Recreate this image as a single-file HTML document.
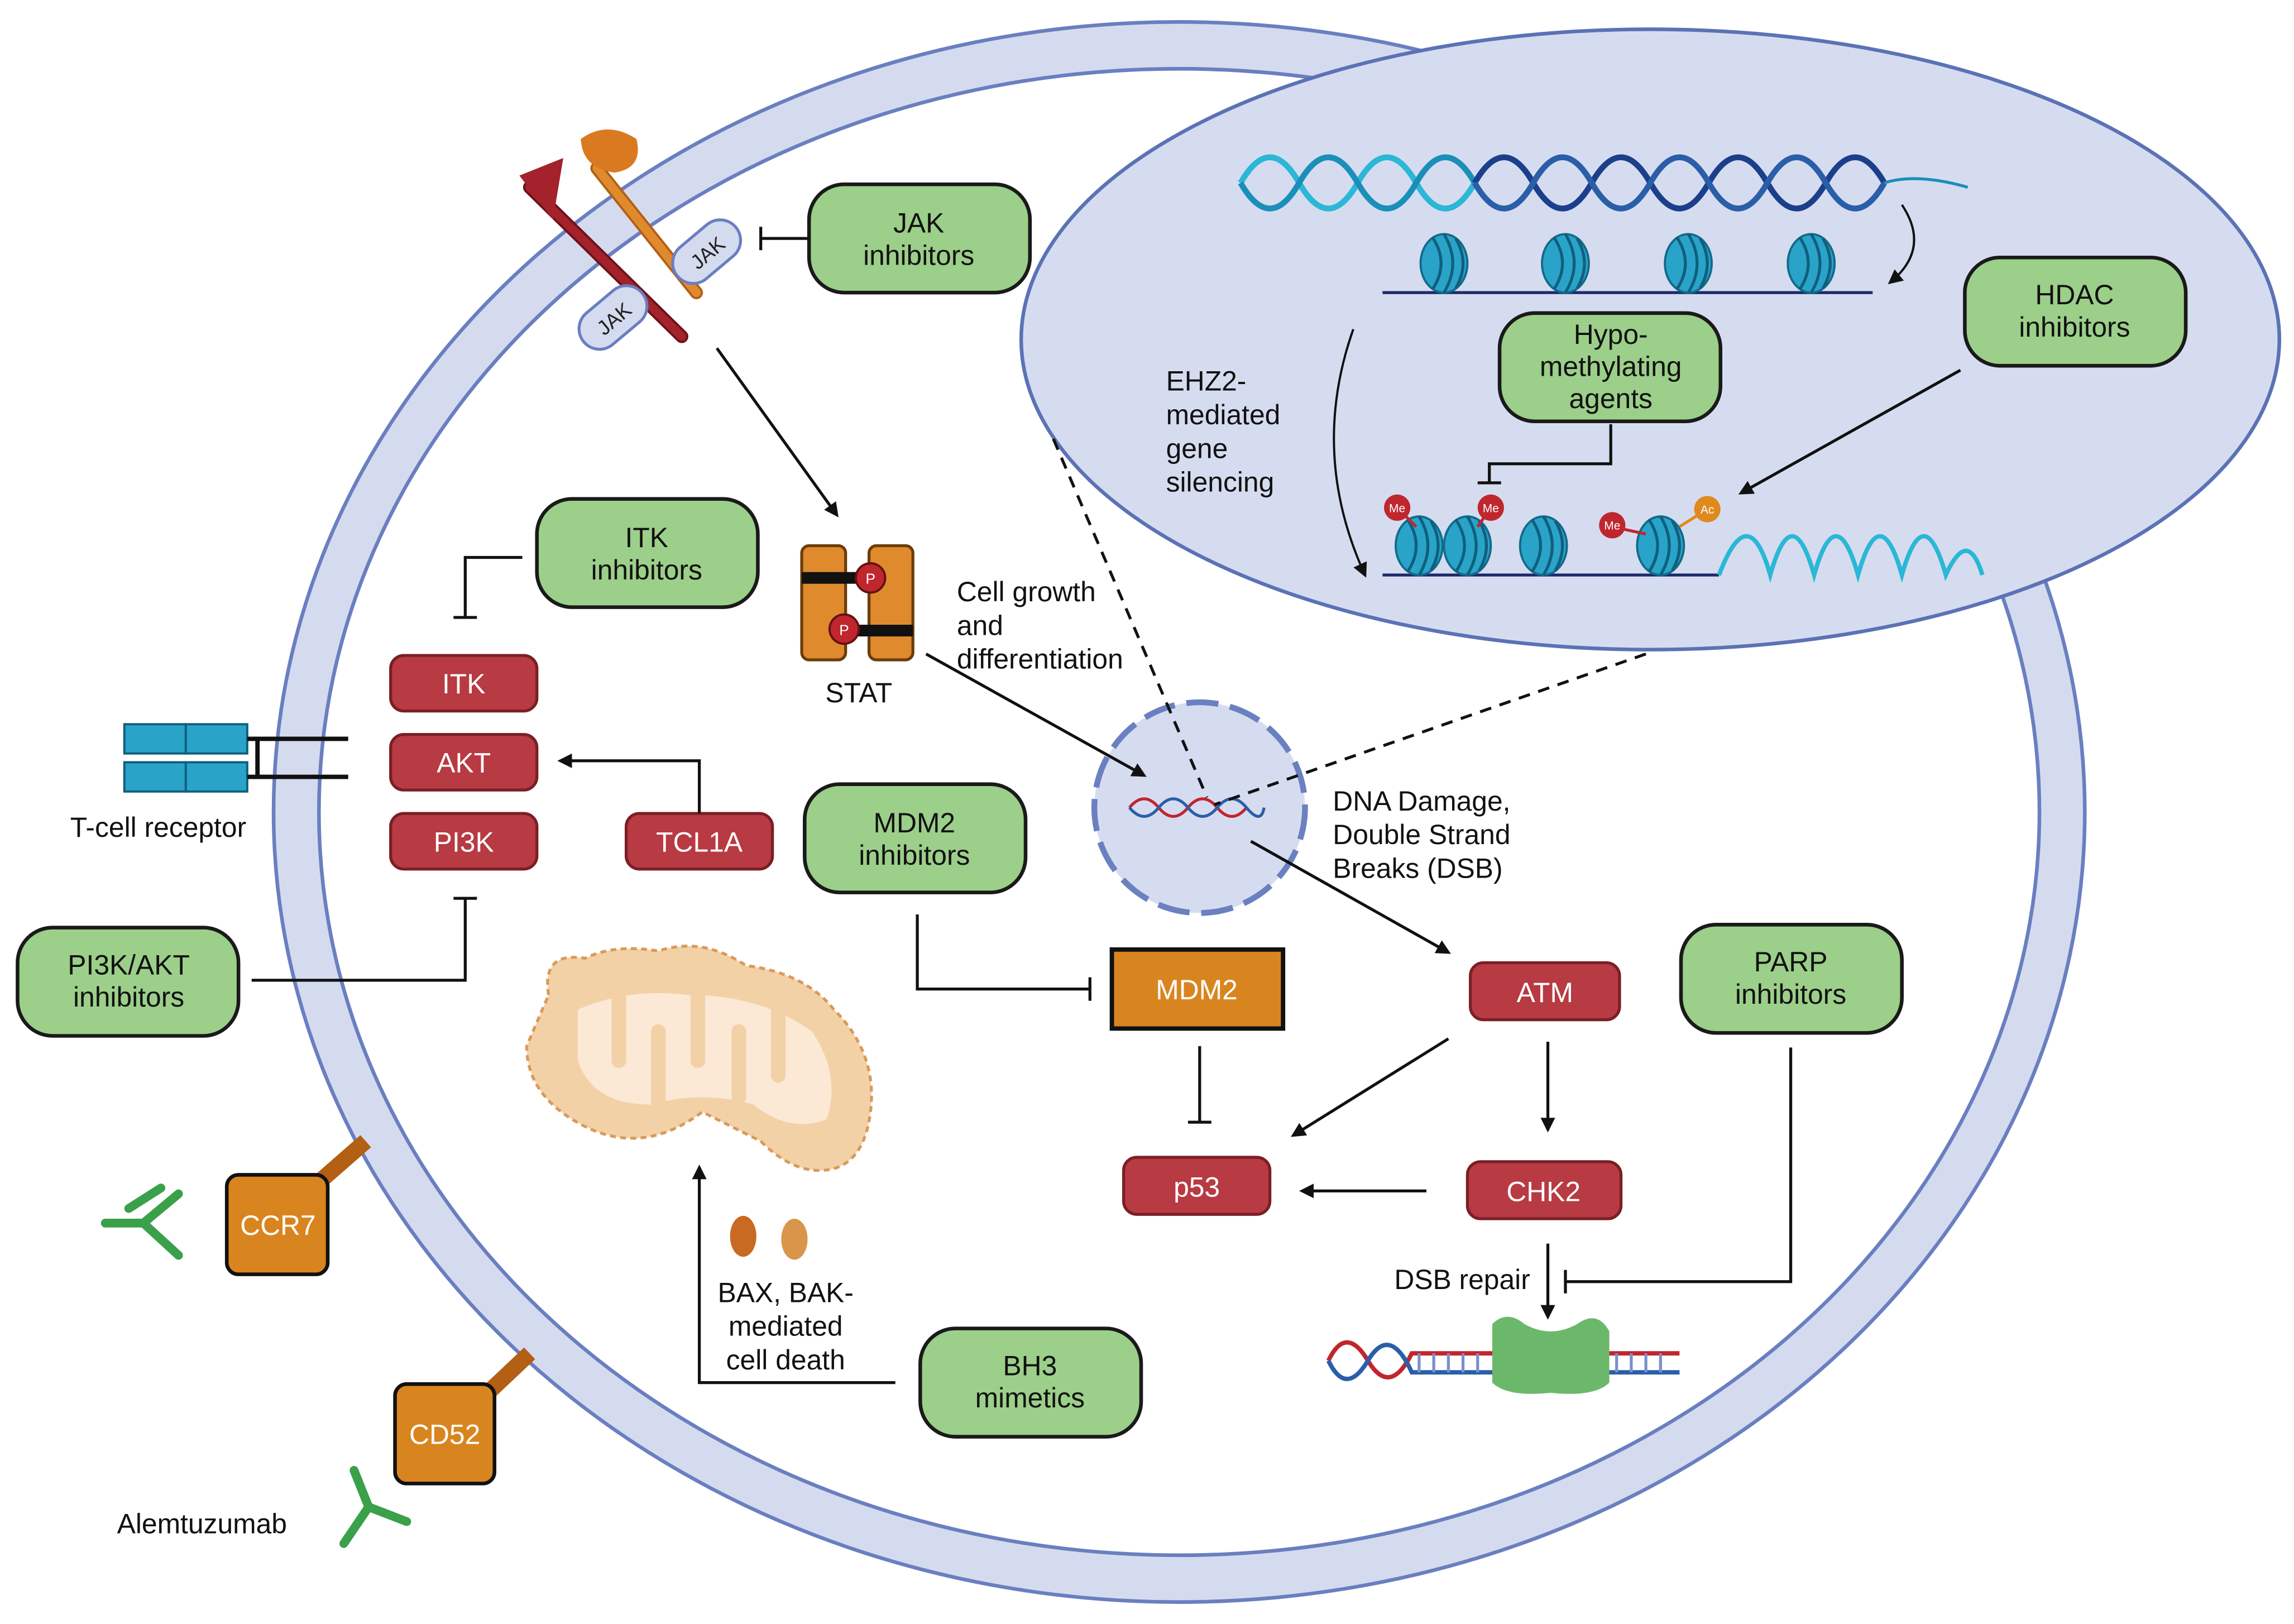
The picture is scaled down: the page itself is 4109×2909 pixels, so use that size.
<!DOCTYPE html>
<html><head><meta charset="utf-8"><style>
html,body{margin:0;padding:0;background:#fff}
svg{display:block}
text{font-family:"Liberation Sans",sans-serif;}
</style></head><body>
<svg width="4109" height="2909" viewBox="0 0 1568 1110" preserveAspectRatio="none" xmlns="http://www.w3.org/2000/svg">
<defs>
<marker id="ah" markerWidth="10" markerHeight="10" refX="8" refY="5" orient="auto" markerUnits="userSpaceOnUse"><path d="M0,0 L10,5 L0,10 z" fill="#111"/></marker>
<g id="nuc"><ellipse cx="0" cy="0" rx="16" ry="20" fill="#2aa3c9" stroke="#126b8a" stroke-width="1.5"/><path d="M-8,-18 Q4,0 -8,18 M0,-20 Q12,0 0,20 M8,-17 Q18,0 8,17" stroke="#0f5f7d" stroke-width="2" fill="none"/></g>
</defs>
<rect width="1568" height="1110" fill="#fff"/>
<!-- cell -->
<ellipse cx="806" cy="555" rx="619" ry="540" fill="#d5dbef" stroke="#6a7fc0" stroke-width="2.5"/>
<ellipse cx="806" cy="555" rx="588" ry="508" fill="#fff" stroke="#6a7fc0" stroke-width="2.5"/>
<!-- nucleus -->
<ellipse cx="1128" cy="232" rx="430" ry="212" fill="#d6dcf0" stroke="#5b72b5" stroke-width="2.5"/>
<!-- DNA top -->
<g fill="none" stroke-width="4">
<path d="M848,125 Q868,90 888,125 T928,125 T968,125 T1008,125" stroke="#2bb7d6"/>
<path d="M848,125 Q868,160 888,125 T928,125 T968,125 T1008,125" stroke="#1a8fb8"/>
<path d="M1008,125 Q1028,90 1048,125 T1088,125 T1128,125 T1168,125 T1208,125 T1248,125 T1288,125" stroke="#1b3f8a"/>
<path d="M1008,125 Q1028,160 1048,125 T1088,125 T1128,125 T1168,125 T1208,125 T1248,125 T1288,125" stroke="#2a5ea8"/>
<path d="M1288,125 Q1310,118 1345,128" stroke="#1a8fb8" stroke-width="2"/>
</g>
<path d="M945,200 L1280,200" stroke="#1b2a6a" stroke-width="2"/>
<use href="#nuc" x="987" y="180"/><use href="#nuc" x="1070" y="180"/><use href="#nuc" x="1154" y="180"/><use href="#nuc" x="1238" y="180"/>
<path d="M1300,140 Q1320,170 1292,193" fill="none" stroke="#111" stroke-width="1.5" marker-end="url(#ah)"/>
<path d="M925,225 Q895,310 933,393" fill="none" stroke="#111" stroke-width="1.5" marker-end="url(#ah)"/>
<!-- condensed chromatin -->
<path d="M945,393 L1175,393" stroke="#1b2a6a" stroke-width="2"/>
<use href="#nuc" x="970" y="373"/><use href="#nuc" x="1003" y="373"/><use href="#nuc" x="1055" y="373"/><use href="#nuc" x="1135" y="373"/>
<path d="M1175,393 Q1195,340 1210,393 Q1225,340 1240,393 Q1255,340 1270,393 Q1285,340 1300,393 Q1315,340 1330,393 Q1345,360 1355,393" fill="none" stroke="#2bb7d6" stroke-width="3"/>
<line x1="955" y1="347" x2="968" y2="360" stroke="#c0262e" stroke-width="2"/><circle cx="955" cy="347" r="9" fill="#c0262e"/><text x="955" y="350" font-size="8" fill="#fff" text-anchor="middle">Me</text>
<line x1="1019" y1="347" x2="1010" y2="360" stroke="#c0262e" stroke-width="2"/><circle cx="1019" cy="347" r="9" fill="#c0262e"/><text x="1019" y="350" font-size="8" fill="#fff" text-anchor="middle">Me</text>
<line x1="1102" y1="360" x2="1125" y2="365" stroke="#c0262e" stroke-width="2"/><circle cx="1102" cy="359" r="9" fill="#c0262e"/><text x="1102" y="362" font-size="8" fill="#fff" text-anchor="middle">Me</text>
<line x1="1167" y1="348" x2="1148" y2="360" stroke="#e08a1e" stroke-width="2"/><circle cx="1167" cy="348" r="9" fill="#e08a1e"/><text x="1167" y="351" font-size="8" fill="#fff" text-anchor="middle">Ac</text>
<text font-size="19" fill="#111"><tspan x="797" y="267">EHZ2-</tspan><tspan x="797" y="290">mediated</tspan><tspan x="797" y="313">gene</tspan><tspan x="797" y="336">silencing</tspan></text>
<!-- green boxes -->
<g fill="#9ccf8a" stroke="#1a1a1a" stroke-width="2.5">
<rect x="553" y="126" width="151" height="74" rx="24"/>
<rect x="1343" y="176" width="151" height="74" rx="24"/>
<rect x="1025" y="214" width="151" height="74" rx="24"/>
<rect x="367" y="341" width="151" height="74" rx="24"/>
<rect x="550" y="536" width="151" height="74" rx="24"/>
<rect x="1149" y="632" width="151" height="74" rx="24"/>
<rect x="12" y="634" width="151" height="74" rx="24"/>
<rect x="629" y="908" width="151" height="74" rx="24"/>
</g>
<g font-size="19" fill="#111" text-anchor="middle">
<text x="628" y="159">JAK</text><text x="628" y="181">inhibitors</text>
<text x="1418" y="208">HDAC</text><text x="1418" y="230">inhibitors</text>
<text x="1101" y="235">Hypo-</text><text x="1101" y="257">methylating</text><text x="1101" y="279">agents</text>
<text x="442" y="374">ITK</text><text x="442" y="396">inhibitors</text>
<text x="625" y="569">MDM2</text><text x="625" y="591">inhibitors</text>
<text x="1224" y="664">PARP</text><text x="1224" y="686">inhibitors</text>
<text x="88" y="666">PI3K/AKT</text><text x="88" y="688">inhibitors</text>
<text x="704" y="940">BH3</text><text x="704" y="962">mimetics</text>
</g>
<!-- red boxes -->
<g fill="#b83a42" stroke="#7a1f25" stroke-width="2">
<rect x="267" y="448" width="100" height="38" rx="9"/>
<rect x="267" y="502" width="100" height="38" rx="9"/>
<rect x="267" y="556" width="100" height="38" rx="9"/>
<rect x="428" y="556" width="100" height="38" rx="9"/>
<rect x="1005" y="658" width="102" height="39" rx="9"/>
<rect x="1003" y="794" width="105" height="39" rx="9"/>
<rect x="768" y="791" width="100" height="39" rx="9"/>
</g>
<g font-size="19" fill="#fff" text-anchor="middle">
<text x="317" y="474">ITK</text><text x="317" y="528">AKT</text><text x="317" y="582">PI3K</text><text x="478" y="582">TCL1A</text>
<text x="1056" y="685">ATM</text><text x="1055" y="821">CHK2</text><text x="818" y="818">p53</text>
</g>
<rect x="760" y="649" width="117" height="54" fill="#d9851f" stroke="#111" stroke-width="3"/>
<text x="818" y="683" font-size="19" fill="#fff" text-anchor="middle">MDM2</text>
<!-- receptor -->
<line x1="362" y1="128" x2="466" y2="230" stroke="#6e1118" stroke-width="9" stroke-linecap="round"/>
<line x1="362" y1="128" x2="466" y2="230" stroke="#a3222c" stroke-width="6" stroke-linecap="round"/>
<path d="M355,120 L385,108 L378,150 Z" fill="#a3222c"/>
<line x1="408" y1="115" x2="476" y2="200" stroke="#b35f14" stroke-width="9" stroke-linecap="round"/>
<line x1="408" y1="115" x2="476" y2="200" stroke="#e08a2e" stroke-width="6" stroke-linecap="round"/>
<path d="M397,95 Q415,82 435,95 Q440,115 420,118 Q398,115 397,95Z" fill="#d97a20"/>
<g transform="translate(483,172) rotate(-40)"><rect x="-26" y="-14" width="52" height="28" rx="14" fill="#d5dbef" stroke="#6a7fc0" stroke-width="2"/><text x="0" y="6" font-size="14" text-anchor="middle" fill="#222">JAK</text></g>
<g transform="translate(419,217) rotate(-40)"><rect x="-26" y="-14" width="52" height="28" rx="14" fill="#d5dbef" stroke="#6a7fc0" stroke-width="2"/><text x="0" y="6" font-size="14" text-anchor="middle" fill="#222">JAK</text></g>
<!-- STAT -->
<rect x="548" y="373" width="30" height="78" rx="5" fill="#e08a2e" stroke="#6b3d0a" stroke-width="2"/>
<rect x="594" y="373" width="30" height="78" rx="5" fill="#e08a2e" stroke="#6b3d0a" stroke-width="2"/>
<rect x="548" y="391" width="46" height="8" fill="#111"/><rect x="578" y="427" width="46" height="8" fill="#111"/>
<circle cx="595" cy="395" r="10" fill="#c0262e" stroke="#611" stroke-width="1.5"/><text x="595" y="399" font-size="10" fill="#fff" text-anchor="middle">P</text>
<circle cx="577" cy="430" r="10" fill="#c0262e" stroke="#611" stroke-width="1.5"/><text x="577" y="434" font-size="10" fill="#fff" text-anchor="middle">P</text>
<text x="587" y="480" font-size="19" text-anchor="middle" fill="#111">STAT</text>
<text font-size="19" fill="#111"><tspan x="654" y="411">Cell growth</tspan><tspan x="654" y="434">and</tspan><tspan x="654" y="457">differentiation</tspan></text>
<!-- TCR -->
<rect x="85" y="495" width="42" height="20" fill="#2aa3c9" stroke="#0f5f7d" stroke-width="1.5"/><rect x="127" y="495" width="42" height="20" fill="#2aa3c9" stroke="#0f5f7d" stroke-width="1.5"/>
<rect x="85" y="521" width="42" height="20" fill="#2aa3c9" stroke="#0f5f7d" stroke-width="1.5"/><rect x="127" y="521" width="42" height="20" fill="#2aa3c9" stroke="#0f5f7d" stroke-width="1.5"/>
<path d="M169,505 H238 M169,531 H238 M176,505 V531" stroke="#111" stroke-width="3"/>
<text x="48" y="572" font-size="19" fill="#111">T-cell receptor</text>
<!-- small nucleus -->
<circle cx="820" cy="552" r="72" fill="#d6dcf0" stroke="#6a80c0" stroke-width="4" stroke-dasharray="22,8"/>
<path d="M772,552 Q782,540 792,552 T812,552 T832,552 T852,552" fill="none" stroke="#c0262e" stroke-width="2"/>
<path d="M772,552 Q782,564 792,552 T812,552 T832,552 T852,552 T864,552" fill="none" stroke="#2a5ea8" stroke-width="2"/>
<text font-size="19" fill="#111"><tspan x="911" y="554">DNA Damage,</tspan><tspan x="911" y="577">Double Strand</tspan><tspan x="911" y="600">Breaks (DSB)</tspan></text>
<!-- dashed -->
<path d="M720,300 L825,545 M1125,447 L830,550" stroke="#111" stroke-width="2" stroke-dasharray="8,6" fill="none"/>
<!-- connectors -->
<g stroke="#111" stroke-width="2" fill="none">
<path d="M490,238 L572,352" marker-end="url(#ah)"/>
<path d="M553,163 H520 M520,155 V171"/>
<path d="M357,381 H318 V422 M310,422 H326"/>
<path d="M478,556 V520 H383" marker-end="url(#ah)"/>
<path d="M172,670 H318 V614 M310,614 H326"/>
<path d="M633,447 L782,530" marker-end="url(#ah)"/>
<path d="M855,575 L990,651" marker-end="url(#ah)"/>
<path d="M627,625 V676 H745 M745,668 V684"/>
<path d="M820,715 V767 M812,767 H828"/>
<path d="M990,710 L884,776" marker-end="url(#ah)"/>
<path d="M1058,712 V772" marker-end="url(#ah)"/>
<path d="M975,814 H890" marker-end="url(#ah)"/>
<path d="M1058,850 V900" marker-end="url(#ah)"/>
<path d="M1224,716 V876 H1070 M1070,868 V884"/>
<path d="M612,945 H478 V798" marker-end="url(#ah)"/>
<path d="M1101,290 V317 H1018 V330 M1010,330 H1026"/>
<path d="M1340,253 L1190,337" marker-end="url(#ah)"/>
</g>
<text x="953" y="881" font-size="19" fill="#111">DSB repair</text>
<!-- DSB repair DNA -->
<path d="M908,930 Q920,905 935,930 Q950,955 965,925 L1148,925" fill="none" stroke="#c0262e" stroke-width="3"/>
<path d="M908,930 Q920,955 935,930 Q950,905 965,938 L1148,938" fill="none" stroke="#2a5ea8" stroke-width="3"/>
<path d="M970,925 V938 M980,925 V938 M990,925 V938 M1000,925 V938 M1010,925 V938 M1075,925 V938 M1085,925 V938 M1095,925 V938 M1105,925 V938 M1115,925 V938 M1125,925 V938 M1135,925 V938" stroke="#7a8fd0" stroke-width="2"/>
<path d="M1020,905 Q1030,895 1042,905 Q1060,915 1078,905 Q1092,895 1100,910 L1100,945 Q1090,955 1060,952 Q1030,955 1020,945 Z" fill="#6cb86a"/>
<!-- mitochondria -->
<path d="M375,680 Q370,650 400,655 Q420,645 450,650 Q480,640 510,660 Q550,665 570,690 Q600,720 595,760 Q590,800 560,800 Q540,800 520,780 Q500,770 480,760 Q440,790 400,770 Q360,750 360,715 Z" fill="#f3d1a7" stroke="#d99a5a" stroke-width="2" stroke-dasharray="4,3"/>
<path d="M395,690 Q430,675 470,680 Q520,680 555,705 Q575,735 565,765 Q540,775 515,755 Q480,745 445,755 Q405,755 395,725 Z" fill="#fbe9d6"/>
<g fill="#f3d1a7"><rect x="418" y="675" width="10" height="55" rx="5"/><rect x="445" y="700" width="10" height="58" rx="5"/><rect x="472" y="675" width="10" height="55" rx="5"/><rect x="500" y="700" width="10" height="55" rx="5"/><rect x="527" y="685" width="10" height="55" rx="5"/></g>
<ellipse cx="508" cy="845" rx="9" ry="14" fill="#c96a22"/><ellipse cx="543" cy="847" rx="9" ry="14" fill="#d9954a"/>
<text font-size="19" fill="#111" text-anchor="middle"><tspan x="537" y="890">BAX, BAK-</tspan><tspan x="537" y="913">mediated</tspan><tspan x="537" y="936">cell death</tspan></text>
<!-- CCR7 / CD52 -->
<line x1="210" y1="815" x2="250" y2="780" stroke="#b35f14" stroke-width="11"/>
<line x1="325" y1="960" x2="362" y2="925" stroke="#b35f14" stroke-width="11"/>
<rect x="155" y="803" width="69" height="68" rx="8" fill="#d9851f" stroke="#111" stroke-width="2.5"/>
<rect x="270" y="946" width="68" height="68" rx="8" fill="#d9851f" stroke="#111" stroke-width="2.5"/>
<text x="190" y="844" font-size="19" fill="#fff" text-anchor="middle">CCR7</text>
<text x="304" y="987" font-size="19" fill="#fff" text-anchor="middle">CD52</text>
<g stroke="#3aa04a" stroke-width="6" stroke-linecap="round" fill="none">
<path d="M72,836 H98 L122,816 M98,836 L122,858 M88,826 L110,812"/>
<path d="M252,1030 L235,1055 M252,1030 L278,1040 M252,1030 L242,1005"/>
</g>
<text x="80" y="1048" font-size="19" fill="#111">Alemtuzumab</text>
</svg>
</body></html>
